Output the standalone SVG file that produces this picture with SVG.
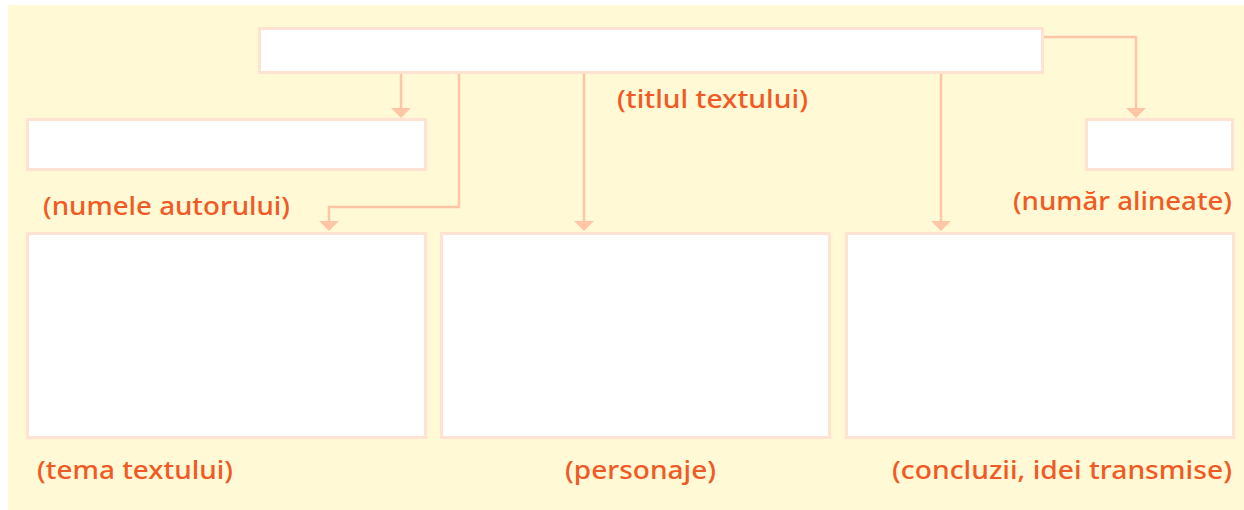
<svg xmlns="http://www.w3.org/2000/svg" width="1244" height="510" viewBox="0 0 1244 510">
<defs>
<style>
.box{fill:#FFFFFF;stroke:#FFE2D2;stroke-width:3}
.con{fill:none;stroke:#FFC6A6;stroke-width:2.5}
.head{fill:#FFC6A6}
.lbl{font-family:"Noto Sans","Open Sans",sans-serif;font-size:26px;font-weight:500;fill:#F15A24}
</style>
</defs>
<rect x="0" y="0" width="1244" height="510" fill="#FFFFFF"/>
<rect x="8" y="5" width="1236" height="505" fill="#FFF9D6"/>
<g id="connectors">
<line class="con" x1="401" y1="73" x2="401" y2="110"/>
<polygon class="head" points="391,108 411,108 401,118"/>
<polyline class="con" points="459,73 459,207 329,207 329,223"/>
<polygon class="head" points="319,221 339,221 329,231"/>
<line class="con" x1="584" y1="73" x2="584" y2="223"/>
<polygon class="head" points="574,221 594,221 584,231"/>
<line class="con" x1="941" y1="73" x2="941" y2="223"/>
<polygon class="head" points="931,221 951,221 941,231"/>
<polyline class="con" points="1043,37 1136,37 1136,110"/>
<polygon class="head" points="1126,108 1146,108 1136,118"/>
</g>
<g id="titlu">
<rect class="box" x="259.5" y="28.5" width="783" height="44"/>
<text class="lbl" x="617" y="108" textLength="191" lengthAdjust="spacingAndGlyphs">(titlul textului)</text>
</g>
<g id="autor">
<rect class="box" x="27.5" y="119.5" width="398" height="50"/>
<text class="lbl" x="43" y="215" textLength="247" lengthAdjust="spacingAndGlyphs">(numele autorului)</text>
</g>
<g id="alineate">
<rect class="box" x="1086.5" y="119.5" width="146" height="50"/>
<text class="lbl" x="1013" y="210" textLength="219" lengthAdjust="spacingAndGlyphs">(număr alineate)</text>
</g>
<g id="tema">
<rect class="box" x="27.5" y="233.5" width="398" height="204"/>
<text class="lbl" x="37" y="479" textLength="196" lengthAdjust="spacingAndGlyphs">(tema textului)</text>
</g>
<g id="personaje">
<rect class="box" x="441.5" y="233.5" width="388" height="204"/>
<text class="lbl" x="565" y="479" textLength="151" lengthAdjust="spacingAndGlyphs">(personaje)</text>
</g>
<g id="concluzii">
<rect class="box" x="846.5" y="233.5" width="387" height="204"/>
<text class="lbl" x="892" y="479" textLength="340" lengthAdjust="spacingAndGlyphs">(concluzii, idei transmise)</text>
</g>
</svg>
